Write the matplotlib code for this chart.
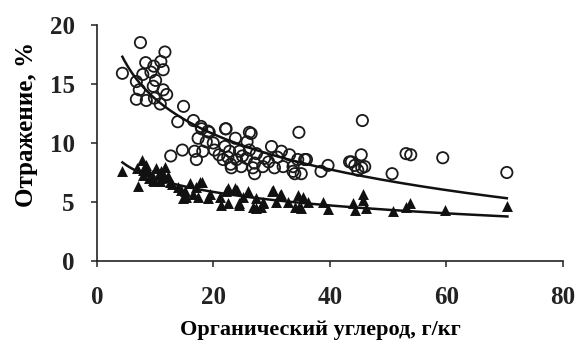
import matplotlib

matplotlib.use("Agg")
import matplotlib.pyplot as plt
import numpy as np

# circles: upper series (x = organic carbon g/kg, y = reflectance %)
circle_x = [
  4.4, 7.5, 11.7, 8.4, 9.8, 11.0, 11.4, 7.9, 9.3, 10.1, 6.8, 7.3, 9.7, 11.4,
  12.0, 6.8, 8.5, 9.9, 10.9, 14.9, 13.9, 16.6, 18.0, 19.1, 22.1, 26.2, 17.4,
  23.8, 30.0, 14.7, 12.7, 17.9, 22.2, 19.3, 25.8, 18.8, 20.0, 16.8, 18.2,
  20.2, 22.0, 22.8, 24.5, 26.2, 17.1, 21.7, 24.0, 25.7, 23.1, 24.8, 26.8,
  22.5, 26.5, 34.7, 31.7, 33.1, 34.5, 36.0, 27.4, 28.8, 27.1, 28.5, 30.5,
  32.0, 33.7, 27.1, 33.7, 35.1, 38.5, 39.7, 43.4, 45.6, 45.4, 43.7, 44.3,
  46.0, 44.8, 45.5, 50.7, 53.1, 53.9, 59.4, 70.4, 35.7, 34.0, 21.0, 23.0,
  29.5, 31.0, 25.0,
]
circle_y = [
  15.9, 18.5, 17.7, 16.8, 16.5, 16.9, 16.2, 15.8, 16.0, 15.3, 15.2, 14.5,
  14.8, 14.5, 14.1, 13.7, 13.6, 13.8, 13.3, 13.1, 11.8, 11.9, 11.2, 11.0,
  11.2, 10.9, 10.4, 10.4, 9.7, 9.4, 8.9, 11.4, 11.2, 10.9, 10.1, 10.1,
  10.0, 9.3, 9.3, 9.4, 9.7, 9.3, 9.3, 9.4, 8.6, 8.6, 8.6, 8.7, 7.9, 8.0,
  7.9, 8.8, 10.8, 10.9, 9.3, 9.0, 8.6, 8.6, 9.1, 8.7, 8.3, 8.0, 7.9, 8.0,
  8.0, 7.4, 7.6, 7.4, 7.6, 8.1, 8.4, 11.9, 9.0, 8.4, 8.1, 8.0, 7.7, 7.9,
  7.4, 9.1, 9.0, 8.75, 7.5, 8.6, 7.4, 9.0, 8.2, 8.4, 8.8, 8.9,
]

# filled triangles: lower series
triangle_x = [
  4.4, 7.7, 7.1, 8.5, 10.2, 11.7, 9.4, 7.9, 11.1, 12.5, 13.9, 14.8, 15.1,
  16.5, 18.0, 17.1, 19.4, 19.1, 22.2, 24.0, 26.0, 22.5, 24.5, 27.4, 28.5,
  30.0, 31.4, 27.4, 8.0, 9.0, 10.6, 6.9, 14.5, 16.0, 17.7, 15.4, 17.4,
  22.5, 23.7, 30.2, 31.7, 34.5, 21.1, 25.1, 28.5, 24.5, 26.8, 28.2, 30.8,
  32.8, 34.0, 34.8, 21.4, 35.4, 36.2, 35.1, 38.8, 39.7, 44.0, 44.3, 45.7,
  45.7, 46.3, 50.8, 53.7, 53.1, 59.7, 70.5, 9.9, 11.5, 12.9, 8.8, 9.6,
  10.8, 12.2, 11.0,
]
triangle_y = [
  7.6, 8.6, 6.4, 8.1, 7.85, 8.0, 7.3, 7.3, 7.0, 6.7, 6.3, 5.3, 5.9, 5.7,
  6.7, 6.3, 5.7, 5.3, 5.9, 6.0, 5.9, 4.9, 4.9, 4.5, 4.9, 5.9, 5.6, 5.3,
  7.7, 7.0, 7.4, 7.9, 6.0, 6.6, 6.7, 5.45, 5.45, 6.2, 6.2, 6.0, 5.7, 5.6,
  5.45, 5.45, 5.0, 4.75, 4.6, 4.6, 5.0, 5.0, 4.6, 4.6, 4.75, 5.45, 5.0,
  4.5, 5.0, 4.4, 4.9, 4.3, 5.7, 5.2, 4.5, 4.2, 4.9, 4.6, 4.3, 4.65, 6.8,
  7.2, 6.5, 7.6, 6.9, 6.8, 7.2, 7.6,
]

# logarithmic trend lines y = a + b * ln(x)
circle_fit = (23.7, -4.32)
triangle_fit = (10.8, -1.65)

x_ticks = [0, 20, 40, 60, 80]
y_ticks = [0, 5, 10, 15, 20]
x_label = "Органический углерод, г/кг"
y_label = "Отражение, %"


def log_trend(x, coef):
  xs = np.linspace(min(x), max(x), 200)
  return xs, coef[0] + coef[1] * np.log(xs)


plt.rcParams["font.family"] = ["Liberation Serif", "DejaVu Serif"]
plt.rcParams["font.weight"] = "bold"

fig = plt.figure(figsize=(5.76, 3.5), dpi=100)
ax = fig.add_axes([0.168, 0.254, 0.809, 0.675])

ax.scatter(circle_x, circle_y, s=66, facecolors="none", edgecolors="#1a1a1a",
           linewidths=1.3, zorder=3)
ax.scatter(triangle_x, triangle_y, s=62, marker="^", color="#111111",
           linewidths=0, zorder=3)

for xs, ys in (log_trend(circle_x, circle_fit),
               log_trend(triangle_x, triangle_fit)):
  ax.plot(xs, ys, color="#111111", linewidth=1.8, zorder=4)

ax.set_xlim(0, 80)
ax.set_ylim(0, 20)
ax.set_xticks(x_ticks)
ax.set_yticks(y_ticks)
ax.spines["top"].set_visible(False)
ax.spines["right"].set_visible(False)
for side in ("left", "bottom"):
  ax.spines[side].set_linewidth(1.2)
  ax.spines[side].set_color("#222222")
ax.tick_params(axis="both", direction="out", length=4, width=1.1,
               labelsize=18, colors="#222222")
ax.tick_params(axis="x", pad=14)
ax.tick_params(axis="y", pad=12)
ax.set_xlabel(x_label, fontsize=16, fontweight="bold")
ax.set_ylabel(y_label, fontsize=18, fontweight="bold")
ax.xaxis.set_label_coords(0.479, -0.25)
ax.yaxis.set_label_coords(-0.126, 0.58)

fig.savefig("out.png", dpi=100)
